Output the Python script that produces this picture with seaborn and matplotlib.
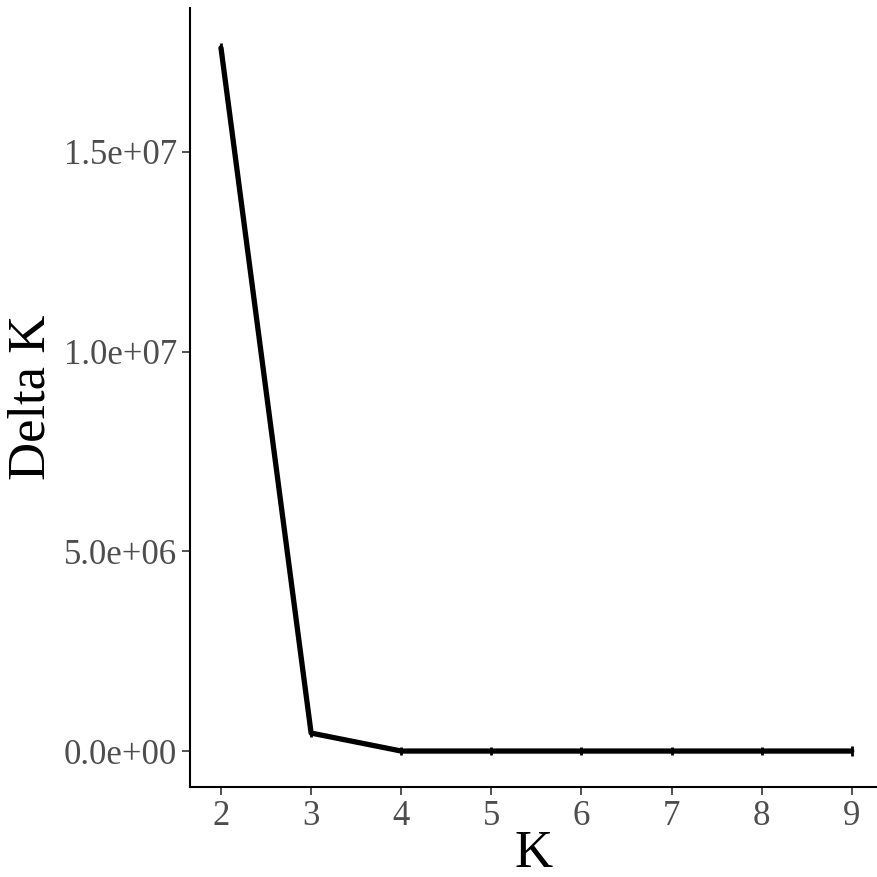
import seaborn as sns
import matplotlib.pyplot as plt
import pandas as pd

# Delta K per K (Evanno method)
k_vals = [2, 3, 4, 5, 6, 7, 8, 9]
delta_k = [17.6e6, 0.45e6, 0.0, 0.0, 0.0, 0.0, 0.0, 0.0]
delta_sd = [0.12e6, 0.1e6, 0.1e6, 0.1e6, 0.1e6, 0.1e6, 0.1e6, 0.12e6]

dt = pd.DataFrame({'K': k_vals, 'DeltaK': delta_k, 'sd': delta_sd})

sns.set_style('ticks')
plt.rcParams['font.family'] = ['Liberation Serif', 'DejaVu Serif']

fig = plt.figure(figsize=(8.77, 8.77), dpi=100)
ax = fig.add_axes([190/877, 1-787/877, 1-190/877, (787-8)/877])

sns.lineplot(x='K', y='DeltaK', data=dt, color='black', linewidth=3.8, ax=ax)
ax.errorbar(dt.K, dt.DeltaK, yerr=dt.sd, fmt='none', ecolor='black',
            elinewidth=2, capsize=0)

ax.set_xlim(1.656, 9.28)
ax.set_ylim(-0.9e6, 18.6e6)
ax.set_xticks(k_vals)
ax.set_yticks([0, 5e6, 10e6, 15e6])
ax.set_yticklabels(['0.0e+00', '5.0e+06', '1.0e+07', '1.5e+07'])
ax.tick_params(labelsize=25, labelcolor='#4D4D4D', color='#333333', length=6, width=1.2)
ax.set_xlabel('K', fontsize=38, labelpad=-2, color='black')
ax.set_ylabel('Delta K', fontsize=38, labelpad=6, color='black')
for s in ['top', 'right']:
    ax.spines[s].set_visible(False)
for s in ['left', 'bottom']:
    ax.spines[s].set_linewidth(1.5)
    ax.spines[s].set_color('black')

fig.savefig('out.png', dpi=100)
